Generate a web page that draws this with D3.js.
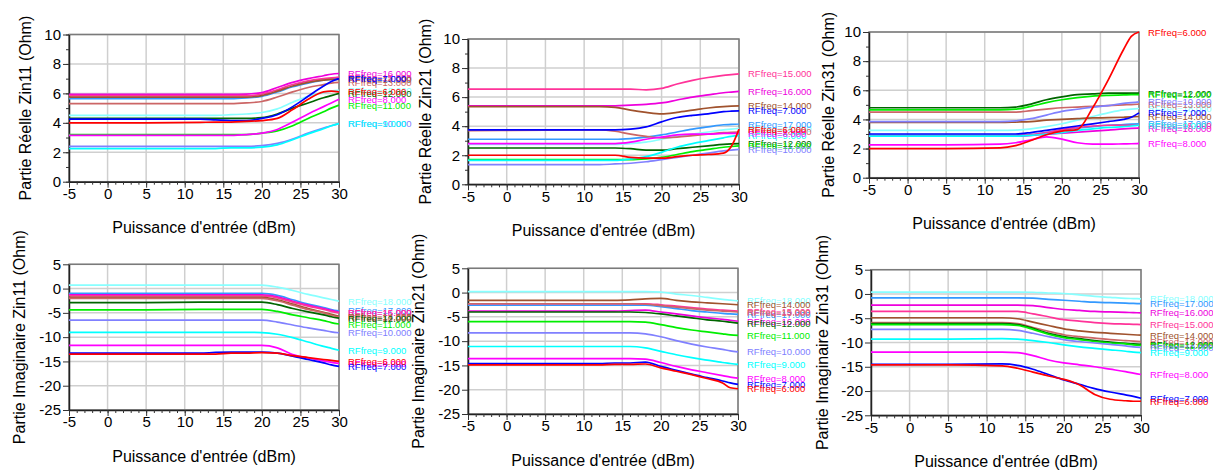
<!DOCTYPE html>
<html><head><meta charset="utf-8">
<script src="https://cdn.jsdelivr.net/npm/d3@7"></script>
<style>body{margin:0;background:#fff;} svg text{font-family:"Liberation Sans",Arial,sans-serif;}</style>
</head><body><svg id="chart" width="1213" height="472"></svg>
<script>
// ---------- data ----------
const rfFreqs = [6, 7, 8, 9, 10, 11, 12, 13, 14, 15, 16, 17, 18];
const seriesColors = ["#ff0000", "#0000ff", "#ff00ff", "#00ffff", "#8080ff", "#00ee00", "#006600",
  "#cc6666", "#a0522d", "#ff3399", "#ee00dd", "#3399ff", "#88ffff"];
const powerDbm = [-5, 5, 12, 14, 16, 18, 20, 22, 24, 26, 28, 29, 30];
const powerTicks = [-5, 0, 5, 10, 15, 20, 25, 30];
const realTicks = [0, 2, 4, 6, 8, 10];
const imagTicks = [-25, -20, -15, -10, -5, 0, 5];

const reZin11 = [
  [4.0,4.0,4.03,4.05,4.05,4.1,4.15,4.3,4.9,5.6,6.1,6.15,6.1],
  [4.25,4.25,4.25,4.2,4.15,4.15,4.3,4.55,5.1,5.8,6.5,6.8,7.0],
  [3.15,3.15,3.15,3.15,3.15,3.2,3.3,3.55,4.05,4.6,5.1,5.35,5.6],
  [2.25,2.25,2.25,2.25,2.3,2.3,2.35,2.5,2.85,3.25,3.6,3.8,3.95],
  [2.4,2.4,2.4,2.4,2.4,2.4,2.45,2.6,2.9,3.3,3.65,3.8,3.95],
  [3.2,3.2,3.2,3.2,3.2,3.2,3.3,3.45,3.8,4.3,4.75,5.0,5.2],
  [4.3,4.3,4.3,4.3,4.3,4.3,4.35,4.6,5.0,5.35,5.7,5.85,6.0],
  [5.3,5.3,5.3,5.3,5.3,5.35,5.45,5.75,6.1,6.4,6.6,6.7,6.75],
  [5.75,5.75,5.75,5.75,5.75,5.75,5.85,6.15,6.5,6.75,6.9,6.95,6.95],
  [5.85,5.85,5.85,5.85,5.85,5.85,5.95,6.25,6.6,6.85,7.0,7.05,7.1],
  [5.93,5.93,5.93,5.93,5.93,5.95,6.05,6.4,6.75,7.0,7.2,7.3,7.35],
  [5.65,5.65,5.65,5.65,5.65,5.7,5.8,6.1,6.45,6.7,6.9,6.95,7.0],
  [4.5,4.5,4.5,4.5,4.55,4.6,4.7,4.95,5.4,5.8,6.05,6.15,6.2]
];
const reZin21 = [
  [2.0,2.0,2.0,2.0,1.85,1.8,1.8,1.9,2.0,2.05,2.15,2.6,3.8],
  [3.75,3.75,3.75,3.75,3.8,3.95,4.3,4.6,4.75,4.85,5.0,5.03,5.05],
  [2.8,2.8,2.8,2.8,2.9,3.1,3.25,3.4,3.45,3.45,3.5,3.5,3.5],
  [1.65,1.65,1.65,1.65,1.75,1.9,2.2,2.55,2.8,3.0,3.2,3.3,3.35],
  [1.35,1.35,1.35,1.4,1.45,1.55,1.7,1.85,2.0,2.15,2.3,2.35,2.4],
  [1.7,1.7,1.7,1.7,1.7,1.75,1.85,2.05,2.25,2.4,2.55,2.6,2.65],
  [2.5,2.5,2.5,2.5,2.45,2.35,2.35,2.45,2.55,2.65,2.75,2.78,2.8],
  [3.7,3.72,3.75,3.65,3.45,3.3,3.2,3.25,3.35,3.45,3.55,3.58,3.6],
  [5.35,5.35,5.35,5.3,5.1,4.95,4.85,4.95,5.1,5.25,5.35,5.38,5.4],
  [6.55,6.55,6.55,6.55,6.55,6.5,6.6,6.9,7.15,7.35,7.5,7.55,7.6],
  [5.4,5.4,5.4,5.4,5.45,5.5,5.6,5.8,6.0,6.15,6.3,6.35,6.4],
  [3.1,3.1,3.1,3.1,3.15,3.25,3.4,3.6,3.8,3.95,4.1,4.12,4.15],
  [2.75,2.75,2.75,2.75,2.8,2.9,3.1,3.3,3.45,3.6,3.75,3.8,3.85]
];
const reZin31 = [
  [2.0,2.0,2.05,2.2,2.55,2.95,3.2,3.3,4.8,6.7,8.8,9.7,10.0],
  [3.0,3.0,3.0,3.0,3.1,3.25,3.4,3.55,3.7,3.85,4.0,4.15,4.45],
  [2.25,2.25,2.3,2.4,2.6,2.8,2.65,2.4,2.3,2.3,2.32,2.33,2.35],
  [2.85,2.85,2.85,2.85,2.9,3.0,3.1,3.25,3.35,3.45,3.5,3.55,3.6],
  [3.85,3.85,3.85,3.9,4.05,4.3,4.55,4.7,4.85,4.95,5.1,5.15,5.2],
  [4.65,4.65,4.65,4.7,4.9,5.15,5.35,5.5,5.6,5.65,5.68,5.7,5.7],
  [4.8,4.8,4.8,4.85,5.05,5.35,5.55,5.7,5.75,5.8,5.8,5.8,5.8],
  [4.5,4.5,4.5,4.5,4.6,4.7,4.8,4.85,4.9,4.95,5.0,5.02,5.05],
  [3.8,3.8,3.8,3.82,3.85,3.95,4.0,4.05,4.1,4.12,4.15,4.17,4.2],
  [2.85,2.85,2.85,2.88,2.95,3.1,3.3,3.45,3.55,3.6,3.6,3.6,3.6],
  [2.85,2.85,2.85,2.85,2.9,2.98,3.05,3.12,3.2,3.27,3.35,3.38,3.4],
  [2.9,2.9,2.9,2.9,2.95,3.1,3.25,3.4,3.5,3.6,3.65,3.68,3.7],
  [3.25,3.25,3.25,3.27,3.35,3.5,3.7,3.95,4.2,4.45,4.65,4.7,4.75]
];
const imZin11 = [
  [-13.5,-13.5,-13.5,-13.5,-13.3,-13.3,-13.2,-13.3,-13.8,-14.2,-14.6,-14.8,-15.0],
  [-13.3,-13.3,-13.3,-13.15,-13.1,-13.1,-13.1,-13.3,-13.9,-14.6,-15.3,-15.7,-16.0],
  [-11.7,-11.7,-11.7,-11.7,-11.7,-11.7,-11.7,-12.2,-13.6,-14.3,-14.9,-15.2,-15.4],
  [-9.0,-9.0,-9.0,-9.0,-9.0,-9.0,-9.05,-9.4,-10.1,-11.0,-11.9,-12.3,-12.7],
  [-6.5,-6.5,-6.5,-6.5,-6.5,-6.5,-6.5,-6.9,-7.5,-8.1,-8.6,-8.9,-9.1],
  [-4.4,-4.4,-4.3,-4.3,-4.3,-4.3,-4.3,-4.7,-5.4,-6.0,-6.6,-7.0,-7.3],
  [-2.9,-2.9,-2.8,-2.8,-2.8,-2.8,-2.8,-3.3,-4.1,-4.8,-5.4,-5.8,-6.1],
  [-2.0,-2.0,-2.0,-2.0,-2.0,-2.0,-2.0,-2.5,-3.4,-4.3,-5.0,-5.5,-5.9],
  [-1.8,-1.8,-1.8,-1.8,-1.8,-1.8,-1.8,-2.3,-3.2,-4.1,-4.9,-5.3,-5.7],
  [-1.5,-1.5,-1.5,-1.5,-1.5,-1.5,-1.5,-1.9,-2.8,-3.6,-4.3,-4.7,-5.0],
  [-1.3,-1.3,-1.3,-1.3,-1.3,-1.3,-1.3,-1.7,-2.6,-3.4,-4.1,-4.5,-4.9],
  [-1.0,-1.0,-1.0,-1.0,-1.0,-1.0,-1.0,-1.4,-2.3,-3.2,-3.9,-4.3,-4.6],
  [0.7,0.7,0.7,0.7,0.7,0.7,0.7,0.3,-0.4,-1.2,-1.9,-2.25,-2.6]
];
const imZin21 = [
  [-14.9,-14.9,-14.9,-14.8,-14.8,-14.7,-15.5,-16.2,-16.9,-17.7,-18.6,-19.6,-19.8],
  [-14.6,-14.6,-14.6,-14.5,-14.5,-14.3,-15.2,-16.0,-16.8,-17.5,-18.2,-18.6,-18.9],
  [-13.6,-13.6,-13.6,-13.6,-13.6,-13.7,-14.4,-15.2,-15.9,-16.5,-17.1,-17.4,-17.6],
  [-11.1,-11.1,-11.1,-11.1,-11.1,-11.4,-12.1,-12.8,-13.4,-13.9,-14.4,-14.6,-14.8],
  [-8.3,-8.3,-8.3,-8.3,-8.3,-8.5,-9.1,-9.9,-10.6,-11.2,-11.7,-12.0,-12.2],
  [-6.0,-6.0,-6.0,-6.0,-6.0,-6.1,-6.6,-7.2,-7.7,-8.1,-8.5,-8.7,-8.8],
  [-4.0,-4.0,-4.0,-4.0,-4.0,-4.1,-4.4,-4.8,-5.2,-5.6,-5.9,-6.1,-6.3],
  [-2.3,-2.3,-2.3,-2.3,-2.3,-2.4,-2.7,-3.0,-3.3,-3.6,-3.8,-3.9,-4.0],
  [-1.6,-1.6,-1.6,-1.6,-1.5,-1.3,-1.2,-1.6,-1.9,-2.1,-2.3,-2.4,-2.5],
  [-2.3,-2.3,-2.3,-2.3,-2.3,-2.3,-2.5,-2.8,-3.1,-3.4,-3.6,-3.7,-3.8],
  [-3.8,-3.8,-3.8,-3.8,-3.7,-3.6,-4.0,-4.4,-4.8,-5.2,-5.5,-5.7,-5.9],
  [-2.6,-2.6,-2.6,-2.6,-2.6,-2.6,-2.9,-3.3,-3.7,-4.0,-4.3,-4.4,-4.5],
  [0.2,0.2,0.2,0.2,0.2,0.2,0.1,-0.3,-0.6,-1.0,-1.4,-1.55,-1.7]
];
const imZin31 = [
  [-14.6,-14.6,-14.8,-15.3,-16.1,-16.9,-17.6,-18.7,-20.7,-21.7,-22.0,-22.1,-22.1],
  [-14.5,-14.5,-14.4,-14.7,-15.5,-16.6,-17.7,-18.6,-19.5,-20.2,-20.8,-21.1,-21.5],
  [-12.0,-12.0,-12.0,-12.1,-12.7,-13.6,-14.2,-14.6,-15.0,-15.5,-16.0,-16.3,-16.6],
  [-9.3,-9.3,-9.2,-9.3,-9.6,-10.0,-10.5,-10.9,-11.2,-11.5,-11.8,-12.0,-12.1],
  [-7.3,-7.3,-7.3,-7.5,-8.1,-8.8,-9.4,-9.8,-10.1,-10.4,-10.7,-10.9,-11.0],
  [-6.3,-6.3,-6.3,-6.5,-7.3,-8.3,-9.0,-9.4,-9.8,-10.1,-10.3,-10.5,-10.6],
  [-6.1,-6.1,-6.1,-6.3,-7.1,-8.1,-8.8,-9.2,-9.6,-9.9,-10.2,-10.3,-10.4],
  [-5.9,-5.9,-5.9,-6.1,-6.9,-7.7,-8.4,-8.8,-9.1,-9.4,-9.6,-9.7,-9.8],
  [-4.9,-4.9,-4.9,-5.1,-5.8,-6.5,-7.2,-7.6,-7.9,-8.1,-8.3,-8.4,-8.5],
  [-3.6,-3.6,-3.6,-3.6,-4.1,-4.7,-5.3,-5.6,-5.9,-6.1,-6.2,-6.25,-6.3],
  [-2.3,-2.3,-2.3,-2.3,-2.4,-2.8,-3.2,-3.4,-3.6,-3.7,-3.8,-3.85,-3.9],
  [-0.8,-0.8,-0.8,-0.8,-0.85,-1.1,-1.3,-1.5,-1.7,-1.8,-1.9,-1.95,-2.0],
  [0.4,0.4,0.4,0.4,0.35,0.2,0.1,-0.2,-0.5,-0.7,-0.9,-0.95,-1.0]
];

// ---------- layout ----------
const xTitle = "Puissance d'entrée (dBm)";
const panels = [
  {data: reZin11, title: "Partie Réelle Zin11 (Ohm)", l: 69, t: 34.5, r: 339, b: 181.7, dom: [0, 10], ticks: realTicks, minor: 1, titleX: 25},
  {data: reZin21, title: "Partie Réelle Zin21 (Ohm)", l: 468, t: 39, r: 739, b: 184.3, dom: [0, 10], ticks: realTicks, minor: 1, titleX: 425},
  {data: reZin31, title: "Partie Réelle Zin31 (Ohm)", l: 869, t: 32, r: 1139, b: 177.7, dom: [0, 10], ticks: realTicks, minor: 1, titleX: 828},
  {data: imZin11, title: "Partie Imaginaire Zin11 (Ohm)", l: 69, t: 264.3, r: 339, b: 410, dom: [-25, 5], ticks: imagTicks, minor: 0, titleX: 19},
  {data: imZin21, title: "Partie Imaginaire Zin21 (Ohm)", l: 468, t: 268.3, r: 738, b: 414, dom: [-25, 5], ticks: imagTicks, minor: 0, titleX: 418},
  {data: imZin31, title: "Partie Imaginaire Zin31 (Ohm)", l: 871, t: 269.7, r: 1141, b: 415.3, dom: [-25, 5], ticks: imagTicks, minor: 0, titleX: 822}
];

const svg = d3.select("#chart");
const fmt = d => String(d);

panels.forEach(p => {
  const g = svg.append("g");
  const x = d3.scaleLinear().domain([-5, 30]).range([p.l, p.r]);
  const y = d3.scaleLinear().domain(p.dom).range([p.b, p.t]);

  // grid
  g.selectAll(".vg").data(powerTicks).join("line")
    .attr("x1", d => x(d)).attr("x2", d => x(d)).attr("y1", p.t).attr("y2", p.b)
    .attr("stroke", "#cfcfcf").attr("stroke-width", 1.5);
  g.selectAll(".hg").data(p.ticks).join("line")
    .attr("x1", p.l).attr("x2", p.r).attr("y1", d => y(d)).attr("y2", d => y(d))
    .attr("stroke", "#cfcfcf").attr("stroke-width", 1.5);

  // frame
  g.append("rect").attr("x", p.l).attr("y", p.t).attr("width", p.r - p.l).attr("height", p.b - p.t)
    .attr("fill", "none").attr("stroke", "#7a7a7a").attr("stroke-width", 1.5);

  // x axis
  const xAxis = d3.axisBottom(x).tickValues(powerTicks).tickSize(6).tickSizeOuter(0).tickFormat(fmt);
  const xa = g.append("g").attr("transform", `translate(0,${p.b})`).call(xAxis);
  const xMinor = d3.axisBottom(x).tickValues(d3.range(-5, 31, 1)).tickSize(3).tickSizeOuter(0).tickFormat("");
  g.append("g").attr("transform", `translate(0,${p.b})`).call(xMinor).select(".domain").remove();
  xa.select(".domain").attr("stroke", "#222").attr("stroke-width", 1.5);
  xa.selectAll(".tick text").attr("font-size", 15).attr("fill", "#000").attr("dy", "0.75em").attr("y", 6);

  // y axis
  const yAxis = d3.axisLeft(y).tickValues(p.ticks).tickSize(6).tickSizeOuter(0).tickFormat(fmt);
  const ya = g.append("g").attr("transform", `translate(${p.l},0)`).call(yAxis);
  if (p.minor) {
    const ym = d3.axisLeft(y).tickValues(d3.range(p.dom[0], p.dom[1] + 0.001, p.minor)).tickSize(3).tickSizeOuter(0).tickFormat("");
    g.append("g").attr("transform", `translate(${p.l},0)`).call(ym).select(".domain").remove();
  }
  ya.select(".domain").attr("stroke", "#222").attr("stroke-width", 1.5);
  ya.selectAll(".tick text").attr("font-size", 15).attr("fill", "#000").attr("x", -8);
  g.selectAll(".tick line").attr("stroke", "#333");

  // titles
  g.append("text").attr("x", (p.l + p.r) / 2).attr("y", p.b + 46).attr("text-anchor", "middle")
    .attr("dominant-baseline", "central").attr("font-size", 16).text(xTitle);
  g.append("text").attr("transform", `translate(${p.titleX},${(p.t + p.b) / 2}) rotate(-90)`)
    .attr("text-anchor", "middle").attr("dominant-baseline", "central").attr("font-size", 16).text(p.title);

  // lines
  const line = d3.line().x((d, i) => x(powerDbm[i])).y(d => y(d)).curve(d3.curveMonotoneX);
  const order = d3.range(rfFreqs.length).reverse();
  order.forEach(k => {
    g.append("path").attr("d", line(p.data[k])).attr("fill", "none")
      .attr("stroke", seriesColors[k]).attr("stroke-width", 1.7);
  });
  order.forEach(k => {
    const vals = p.data[k];
    g.append("text").attr("x", p.r + 9).attr("y", y(vals[vals.length - 1]))
      .attr("dominant-baseline", "central").attr("font-size", 9.5)
      .attr("fill", seriesColors[k]).text(`RFfreq=${rfFreqs[k].toFixed(3)}`);
  });
});
</script></body></html>
